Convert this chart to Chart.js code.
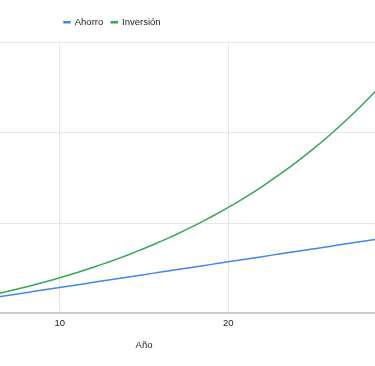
<!DOCTYPE html>
<html>
<head>
<meta charset="utf-8">
<script src="https://cdn.jsdelivr.net/npm/chart.js@4"></script>
<style>
  html, body { margin: 0; padding: 0; background: #fff; overflow: hidden; width: 375px; height: 366px; }
  /* chart is wider than the window: the reference is a crop of a bigger chart */
  #wrap { position: absolute; left: -109px; top: 0; width: 506px; height: 366px; }
</style>
</head>
<body>
<div id="wrap"><canvas id="chart"></canvas></div>
<script>
// Data (y in the chart's own units, gridline every 200000)
const years = [0, 1, 2, 3, 4, 5, 6, 7, 8, 9, 10, 11, 12, 13, 14, 15, 16, 17, 18, 19, 20,
               21, 22, 23, 24, 25, 26, 27, 28, 29, 30];
const ahorro = [0, 5700, 11400, 17100, 22800, 28500, 34200, 39900, 45600, 51300, 57000,
                62700, 68400, 74100, 79800, 85500, 91200, 96900, 102600, 108300, 114000,
                119700, 125400, 131100, 136800, 142500, 148200, 153900, 159600, 165300, 171000];
const inversion = [0, 5700, 11700, 18200, 25200, 32600, 40600, 49200, 58300, 68100, 78600,
                   89900, 101900, 114800, 128600, 143400, 159300, 176200, 194400, 213900, 234700,
                   257100, 281000, 306600, 334000, 363400, 394800, 428500, 464600, 503300, 544600];
const seriesNames = ['Ahorro', 'Inversión'];
const xTitle = 'Año';

const gridColor = '#e6e6e6';
const axisColor = '#cccccc';
const textColor = '#222222';
const font = { family: "'Liberation Sans', Arial, sans-serif", size: 9.5 };

const pts = vals => years.map((y, i) => ({ x: y, y: vals[i] }));

// put the legend where the reference has it
const legendPlacer = {
  id: 'legendPlacer',
  afterLayout(chart) {
    const lg = chart.legend;
    lg.left = 165;
    lg.top -= 5.6;
    lg.bottom -= 5.6;
  }
};

new Chart(document.getElementById('chart'), {
  type: 'line',
  data: {
    datasets: [
      {
        label: seriesNames[0],
        data: pts(ahorro),
        borderColor: '#4285f4',
        backgroundColor: '#4285f4',
        borderWidth: 1.5,
        pointRadius: 0,
        tension: 0.2
      },
      {
        label: seriesNames[1],
        data: pts(inversion),
        borderColor: '#34a853',
        backgroundColor: '#34a853',
        borderWidth: 1.5,
        pointRadius: 0,
        tension: 0.2
      }
    ]
  },
  plugins: [legendPlacer],
  options: {
    responsive: true,
    maintainAspectRatio: false,
    animation: false,
    layout: { padding: { top: 15.2, bottom: 15, left: 0, right: 0 } },
    scales: {
      x: {
        type: 'linear',
        min: 0,
        max: 30,
        ticks: { stepSize: 10, padding: 4, color: textColor, font },
        grid: { color: gridColor, drawTicks: false },
        border: { color: axisColor, width: 2 },
        title: { display: true, text: xTitle, color: textColor, font, padding: { top: 7, bottom: 0 } },
        afterFit(s) { s.paddingLeft = 0; s.paddingRight = 0; }
      },
      y: {
        min: 0,
        max: 600000,
        ticks: { display: false, stepSize: 200000 },
        grid: {
          drawTicks: false,
          color: c => (c.tick && c.tick.value === 0) ? 'rgba(0,0,0,0)' : gridColor
        },
        border: { display: false }
      }
    },
    plugins: {
      legend: {
        position: 'top',
        align: 'start',
        labels: { boxWidth: 6, boxHeight: 1, padding: 8, color: textColor, font }
      },
      tooltip: { enabled: false }
    }
  }
});
</script>
</body>
</html>
